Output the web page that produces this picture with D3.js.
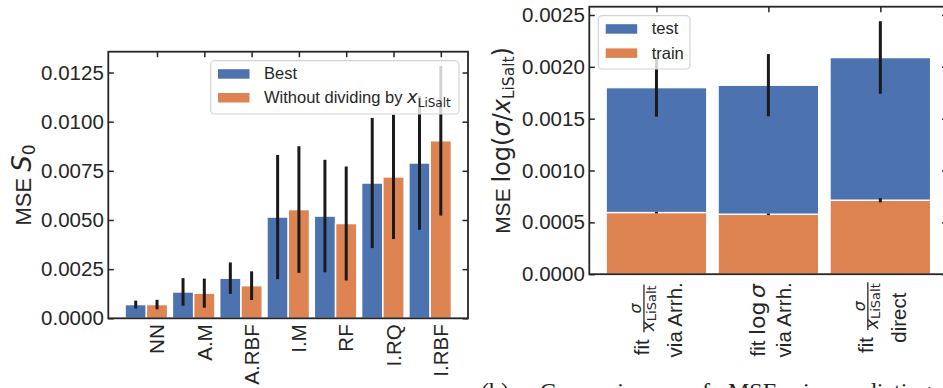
<!DOCTYPE html>
<html><head><meta charset="utf-8">
<script src="https://cdn.jsdelivr.net/npm/d3@7"></script>
<style>body{margin:0;background:#fff;} svg{display:block;}</style>
</head><body>
<svg id="c" width="943" height="388"></svg>
<script>
// ---------- data ----------
const leftCategories = ["NN", "A.M", "A.RBF", "I.M", "RF", "I.RQ", "I.RBF"];
const bestValues     = [0.00070, 0.00134, 0.00204, 0.00515, 0.00520, 0.00688, 0.00790];
const bestErrors     = [0.00020, 0.00070, 0.00080, 0.00316, 0.00286, 0.00331, 0.00340];
const withoutValues  = [0.00070, 0.00128, 0.00166, 0.00553, 0.00482, 0.00719, 0.00903];
const withoutErrors  = [0.00024, 0.00074, 0.00073, 0.00322, 0.00290, 0.00316, 0.00380];
const leftTicks      = [0, 0.0025, 0.005, 0.0075, 0.01, 0.0125];

const rightMethods   = ["fit σ/x via Arrh.", "fit log σ via Arrh.", "fit σ/x direct"];
const rightLine1     = ["frac", "log", "frac"];
const rightLine2     = ["via Arrh.", "via Arrh.", "direct"];
const testValues     = [0.001800, 0.001823, 0.002090];
const testErrors     = [0.000280, 0.000300, 0.000350];
const trainValues    = [0.000594, 0.000578, 0.000713];
const trainErrors    = [0.000008, 0.000008, 0.000020];
const rightTicks     = [0, 0.0005, 0.001, 0.0015, 0.002, 0.0025];

const captionWords   = ["(b)", "Comparison", "of", "MSE", "in", "predicting"];

// ---------- style ----------
const svg = d3.select("#c");
const SANS = "'Liberation Sans', Arial, sans-serif";
const MATH = "'DejaVu Sans', sans-serif";
const SERIF = "'Liberation Serif', 'DejaVu Serif', serif";
const BLUE = "#4c72b0", ORANGE = "#dd8452", INK = "#262626", ERR = "#1a1a1a";
const TICKLEN = 5.5;

// ================= LEFT PANEL =================
const L = {left: 108.3, right: 468, top: 51.7, bottom: 318.3};
const xL = d3.scaleLinear().domain([-1.03, 6.575]).range([L.left, L.right]);
const yL = d3.scaleLinear().domain([0, 0.013558]).range([L.bottom, L.top]);
const BW = 0.45;
const gL = svg.append("g");

function bars(g, xs, ys, offset, width, values, color) {
  g.selectAll(null).data(values).join("rect")
    .attr("x", (d, i) => xs(i + offset - width / 2))
    .attr("width", (d, i) => xs(i + offset + width / 2) - xs(i + offset - width / 2))
    .attr("y", d => ys(d))
    .attr("height", d => ys(0) - ys(d))
    .attr("fill", color).attr("stroke", "#fff").attr("stroke-width", 1.5);
}
function errs(g, xs, ys, offset, values, errors) {
  g.selectAll(null).data(values).join("line")
    .attr("x1", (d, i) => xs(i + offset)).attr("x2", (d, i) => xs(i + offset))
    .attr("y1", (d, i) => ys(d - errors[i])).attr("y2", (d, i) => ys(d + errors[i]))
    .attr("stroke", ERR).attr("stroke-width", 3);
}
bars(gL, xL, yL, -BW, BW, bestValues, BLUE);
bars(gL, xL, yL, 0, BW, withoutValues, ORANGE);
errs(gL, xL, yL, -BW, bestValues, bestErrors);
errs(gL, xL, yL, 0, withoutValues, withoutErrors);

function frame(g, box, ys, ticks, xs, xticks, fmt) {
  const axL = g.append("g").attr("transform", `translate(${box.left},0)`)
    .call(d3.axisLeft(ys).tickValues(ticks).tickSize(-TICKLEN).tickPadding(4.5).tickFormat(fmt));
  axL.select(".domain").remove();
  axL.selectAll(".tick line").attr("stroke", INK).attr("stroke-width", 1.5);
  axL.selectAll(".tick text").attr("font-family", SANS).attr("font-size", 20.5).attr("fill", INK);
  const axR = g.append("g").attr("transform", `translate(${box.right},0)`)
    .call(d3.axisRight(ys).tickValues(ticks).tickSize(-TICKLEN).tickFormat(""));
  axR.select(".domain").remove();
  axR.selectAll(".tick line").attr("stroke", INK).attr("stroke-width", 1.5);
  const axT = g.append("g").attr("transform", `translate(0,${box.top})`)
    .call(d3.axisTop(xs).tickValues(xticks).tickSize(-TICKLEN).tickFormat(""));
  axT.select(".domain").remove();
  axT.selectAll(".tick line").attr("stroke", INK).attr("stroke-width", 1.5);
  g.append("rect").attr("x", box.left).attr("y", box.top)
    .attr("width", box.right - box.left).attr("height", box.bottom - box.top)
    .attr("fill", "none").attr("stroke", INK).attr("stroke-width", 1.8);
}
frame(gL, L, yL, leftTicks, xL, d3.range(leftCategories.length), d3.format(".4f"));

// x tick labels (rotated)
leftCategories.forEach((c, i) => {
  gL.append("text")
    .attr("transform", `translate(${xL(i)},${L.bottom + 6}) rotate(-90)`)
    .attr("text-anchor", "end").attr("dy", "0.35em")
    .attr("font-family", SANS).attr("font-size", 20.5).attr("fill", INK)
    .text(c);
});

// y label
const ylabL = gL.append("text")
  .attr("transform", `translate(31,${(L.top + L.bottom) / 2}) rotate(-90)`)
  .attr("text-anchor", "middle").attr("fill", INK);
ylabL.append("tspan").attr("font-family", SANS).attr("font-size", 22).text("MSE ");
ylabL.append("tspan").attr("font-family", MATH).attr("font-style", "italic").attr("font-size", 26).text("S");
ylabL.append("tspan").attr("font-family", MATH).attr("font-size", 17).attr("dy", 4).text("0");

// legend
function legend(g, box, items) {
  g.append("rect").attr("x", box.x).attr("y", box.y).attr("width", box.w).attr("height", box.h)
    .attr("rx", 4).attr("fill", "#fff").attr("fill-opacity", 0.8)
    .attr("stroke", "#d4d4d4").attr("stroke-width", 1.2);
  items.forEach((it, k) => {
    const yy = box.y + box.first + k * box.step;
    g.append("rect").attr("x", box.px).attr("y", yy).attr("width", 31.5).attr("height", 9.5)
      .attr("fill", it.color);
    const t = g.append("text").attr("x", box.tx).attr("y", yy + 10.2)
      .attr("font-family", SANS).attr("font-size", 16.5).attr("fill", INK);
    it.build(t);
  });
}
legend(gL, {x: 210.7, y: 60.7, w: 248.3, h: 53.3, first: 8.5, step: 23.8, px: 218, tx: 264}, [
  {color: BLUE, build: t => t.text("Best")},
  {color: ORANGE, build: t => {
    t.append("tspan").text("Without dividing by ");
    t.append("tspan").attr("font-family", MATH).attr("font-style", "italic").attr("font-size", 18).text("x");
    t.append("tspan").attr("font-family", MATH).attr("font-size", 12).attr("dy", 3.5).text("LiSalt");
  }}
]);

// ================= RIGHT PANEL =================
const R = {left: 589.3, right: 947.5, top: 6.7, bottom: 274.2};
const xR = d3.scaleLinear().domain([-0.6, 2.6]).range([R.left, R.right]);
const yR = d3.scaleLinear().domain([0, 0.00258]).range([R.bottom, R.top]);
const gR = svg.append("g");
bars(gR, xR, yR, 0, 0.9, testValues, BLUE);
bars(gR, xR, yR, 0, 0.9, trainValues, ORANGE);
errs(gR, xR, yR, 0, testValues, testErrors);
errs(gR, xR, yR, 0, trainValues, trainErrors);
frame(gR, R, yR, rightTicks, xR, d3.range(rightMethods.length), d3.format(".4f"));

// y label
const ylabR = gR.append("text")
  .attr("transform", `translate(510,${(R.top + R.bottom) / 2}) rotate(-90)`)
  .attr("text-anchor", "middle").attr("fill", INK);
ylabR.append("tspan").attr("font-family", SANS).attr("font-size", 21).text("MSE ");
ylabR.append("tspan").attr("font-family", MATH).attr("font-size", 24).text("log(");
ylabR.append("tspan").attr("font-family", MATH).attr("font-style", "italic").attr("font-size", 24).text("σ");
ylabR.append("tspan").attr("font-family", MATH).attr("font-size", 24).text("/");
ylabR.append("tspan").attr("font-family", MATH).attr("font-style", "italic").attr("font-size", 24).text("x");
ylabR.append("tspan").attr("font-family", MATH).attr("font-size", 15.5).attr("dy", 4).text("LiSalt");
ylabR.append("tspan").attr("font-family", MATH).attr("font-size", 24).attr("dy", -4).text(")");

// x labels (rotated, two lines)
rightMethods.forEach((m, i) => {
  const g = gR.append("g");
  const l1 = g.append("g");
  const fit = l1.append("text").attr("x", 0).attr("y", 0)
    .attr("font-family", SANS).attr("font-size", 20.5).attr("fill", INK).text("fit");
  let cx = fit.node().getComputedTextLength() + 7;
  let b1, b2;
  if (rightLine1[i] === "frac") {
    const den = l1.append("text").attr("x", cx + 1).attr("y", 5.5).attr("fill", INK);
    den.append("tspan").attr("font-family", MATH).attr("font-style", "italic").attr("font-size", 17).text("x");
    den.append("tspan").attr("font-family", MATH).attr("font-size", 13).attr("dy", 2).text("LiSalt");
    const wd = den.node().getComputedTextLength();
    l1.append("line").attr("x1", cx).attr("x2", cx + wd + 2).attr("y1", -5).attr("y2", -5)
      .attr("stroke", INK).attr("stroke-width", 1.3);
    l1.append("text").attr("x", cx + (wd + 2) / 2).attr("y", -8).attr("text-anchor", "middle")
      .attr("font-family", MATH).attr("font-style", "italic").attr("font-size", 16).attr("fill", INK).text("σ");
    b1 = -7.5; b2 = 25.5;
  } else {
    const t = l1.append("text").attr("x", cx - 1.5).attr("y", 0).attr("fill", INK);
    t.append("tspan").attr("font-family", MATH).attr("font-size", 22).text("log");
    t.append("tspan").attr("font-family", MATH).attr("font-style", "italic").attr("font-size", 22).attr("dx", 3.5).text("σ");
    b1 = -3.5; b2 = 22.5;
  }
  const w1 = l1.node().getBBox().width;
  const l2 = g.append("text").attr("font-family", SANS).attr("font-size", 20.5).attr("fill", INK)
    .attr("text-anchor", "middle").text(rightLine2[i]);
  const w2 = l2.node().getComputedTextLength();
  const maxLen = Math.max(w1, w2);
  l1.attr("transform", `translate(${-maxLen / 2 - w1 / 2},${b1})`);
  l2.attr("x", -maxLen / 2).attr("y", b2);
  g.attr("transform", `translate(${xR(i)},${R.bottom + 8}) rotate(-90)`);
});

legend(gR, {x: 598.3, y: 15.7, w: 91.7, h: 53.3, first: 8.5, step: 24.2, px: 605.7, tx: 651.7}, [
  {color: BLUE, build: t => t.text("test")},
  {color: ORANGE, build: t => t.text("train")}
]);

// ---------- caption (partly below the bottom edge, as in the reference) ----------
const capX = [481, 540, 690, 728, 803, 834];
captionWords.forEach((w, k) => {
  svg.append("text").attr("x", capX[k]).attr("y", 399)
    .attr("font-family", SERIF).attr("font-size", 24).attr("fill", "#222").text(w);
});
</script>
</body></html>
